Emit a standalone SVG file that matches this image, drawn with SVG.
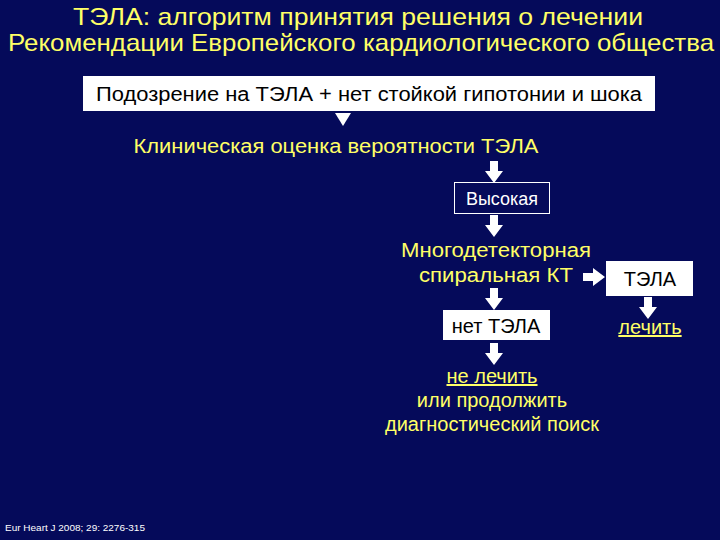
<svg xmlns="http://www.w3.org/2000/svg" width="720" height="540" viewBox="0 0 720 540">
<style>
text{font-family:"Liberation Sans",Arial,sans-serif}
.y{fill:#ffff66;font-size:20px}
.b{fill:#000;font-size:20px}
.t{fill:#ffff66;font-size:24px}
.arr{fill:#fff}
</style>
<defs>
<path id="dn" d="M-4,0 H4 V10 H9 L0,22 L-9,10 H-4 Z"/>
</defs>
<rect width="720" height="540" fill="#050a5a"/>
<text class="t" x="358" y="25" text-anchor="middle" textLength="570" lengthAdjust="spacingAndGlyphs">ТЭЛА: алгоритм принятия решения о лечении</text>
<text class="t" x="8" y="51" textLength="706" lengthAdjust="spacingAndGlyphs">Рекомендации Европейского кардиологического общества</text>
<g id="n1"><rect x="83" y="76" width="572" height="35" fill="#fff"/><text class="b" x="369" y="101" text-anchor="middle" textLength="546" lengthAdjust="spacingAndGlyphs">Подозрение на ТЭЛА + нет стойкой гипотонии и шока</text></g>
<g id="n2"><text class="y" x="336" y="153" text-anchor="middle" textLength="405" lengthAdjust="spacingAndGlyphs">Клиническая оценка вероятности ТЭЛА</text></g>
<g id="n3"><rect x="454.5" y="182.5" width="95" height="31" fill="none" stroke="#fff"/><text x="502" y="205" text-anchor="middle" fill="#fff" font-size="18">Высокая</text></g>
<g id="n4"><text class="y" x="496" y="257" text-anchor="middle" textLength="190" lengthAdjust="spacingAndGlyphs">Многодетекторная</text><text class="y" x="496" y="282" text-anchor="middle" textLength="154" lengthAdjust="spacingAndGlyphs">спиральная КТ</text></g>
<g id="n5"><rect x="606" y="261" width="87" height="35" fill="#fff"/><text class="b" x="650" y="286" text-anchor="middle">ТЭЛА</text></g>
<g id="n6"><text class="y" x="650" y="334" text-anchor="middle" text-decoration="underline">лечить</text></g>
<g id="n7"><rect x="443" y="310" width="107" height="30" fill="#fff"/><text class="b" x="496" y="333" text-anchor="middle">нет ТЭЛА</text></g>
<g id="n8"><text class="y" x="492" y="383" text-anchor="middle" font-size="19" text-decoration="underline">не лечить</text><text class="y" x="492" y="407" text-anchor="middle" font-size="19">или продолжить</text><text class="y" x="492" y="431" text-anchor="middle" font-size="19" textLength="214" lengthAdjust="spacingAndGlyphs">диагностический поиск</text></g>
<g id="connectors" class="arr">
<path d="M335,113 H351 L343,126 Z"/>
<use href="#dn" x="494" y="161"/>
<use href="#dn" x="494" y="215"/>
<use href="#dn" x="494" y="288"/>
<use href="#dn" x="648" y="297"/>
<use href="#dn" x="494" y="343"/>
<path d="M0,-4 V4 H10 V9 L22,0 L10,-9 V-4 Z" transform="translate(583,277)"/>
</g>
<text x="5" y="531" fill="#fff" font-size="9" textLength="140" lengthAdjust="spacingAndGlyphs">Eur Heart J 2008; 29: 2276-315</text>
</svg>
